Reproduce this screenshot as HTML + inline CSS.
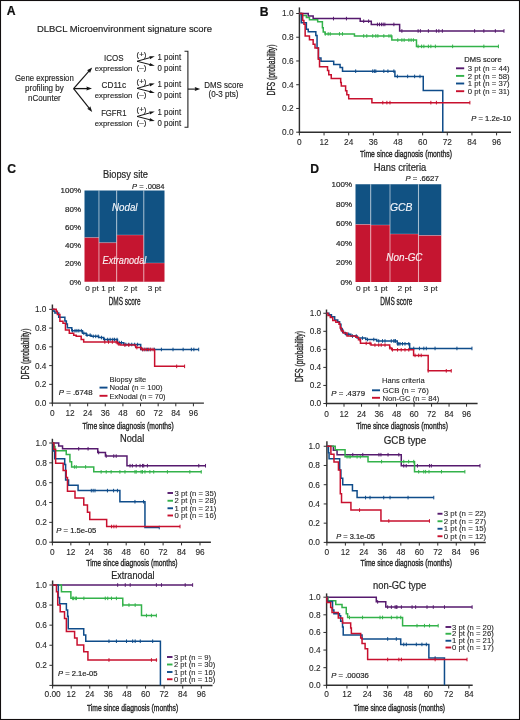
<!DOCTYPE html><html><head><meta charset="utf-8"><style>html,body{margin:0;padding:0;background:#fff;}svg{display:block;will-change:transform;}</style></head><body><svg width="520" height="720" viewBox="0 0 520 720" font-family='"Liberation Sans", sans-serif'>
<rect x="0" y="0" width="520" height="720" fill="#fff"/>
<text x="6.80" y="15.49" font-size="12.2" text-anchor="start" fill="#111" font-weight="bold" stroke="#111" stroke-width="0.2">A</text>
<text x="37.00" y="32.02" font-size="9.5" text-anchor="start" fill="#262626" textLength="175.00" lengthAdjust="spacingAndGlyphs" stroke="#262626" stroke-width="0.2">DLBCL Microenvironment signature score</text>
<text x="44.40" y="81.31" font-size="8.5" text-anchor="middle" fill="#262626" textLength="58.75" lengthAdjust="spacingAndGlyphs" stroke="#262626" stroke-width="0.15">Gene expression</text>
<text x="44.40" y="91.31" font-size="8.5" text-anchor="middle" fill="#262626" textLength="38.75" lengthAdjust="spacingAndGlyphs" stroke="#262626" stroke-width="0.15">profiling by</text>
<text x="44.40" y="100.56" font-size="8.5" text-anchor="middle" fill="#262626" textLength="32.75" lengthAdjust="spacingAndGlyphs" stroke="#262626" stroke-width="0.15">nCounter</text>
<line x1="73.60" y1="88.60" x2="89.17" y2="70.86" stroke="#151515" stroke-width="1.15"/>
<path d="M92.20,67.40 L90.01,72.93 L88.90,71.16 L87.00,70.29 Z" fill="#151515"/>
<line x1="73.60" y1="88.60" x2="87.40" y2="88.60" stroke="#151515" stroke-width="1.3"/>
<path d="M92.00,88.60 L86.40,90.60 L87.00,88.60 L86.40,86.60 Z" fill="#151515"/>
<line x1="73.60" y1="88.60" x2="89.34" y2="108.40" stroke="#151515" stroke-width="1.15"/>
<path d="M92.20,112.00 L87.15,108.86 L89.09,108.09 L90.28,106.37 Z" fill="#151515"/>
<text x="113.80" y="60.87" font-size="8.8" text-anchor="middle" fill="#262626" textLength="19.50" lengthAdjust="spacingAndGlyphs" stroke="#262626" stroke-width="0.15">ICOS</text>
<text x="113.60" y="71.22" font-size="8.1" text-anchor="middle" fill="#262626" textLength="37.60" lengthAdjust="spacingAndGlyphs" stroke="#262626" stroke-width="0.15">expression</text>
<text x="113.80" y="87.77" font-size="8.8" text-anchor="middle" fill="#262626" textLength="24.50" lengthAdjust="spacingAndGlyphs" stroke="#262626" stroke-width="0.15">CD11c</text>
<text x="113.60" y="98.42" font-size="8.1" text-anchor="middle" fill="#262626" textLength="37.60" lengthAdjust="spacingAndGlyphs" stroke="#262626" stroke-width="0.15">expression</text>
<text x="113.80" y="116.27" font-size="8.8" text-anchor="middle" fill="#262626" textLength="25.30" lengthAdjust="spacingAndGlyphs" stroke="#262626" stroke-width="0.15">FGFR1</text>
<text x="113.60" y="126.22" font-size="8.1" text-anchor="middle" fill="#262626" textLength="37.60" lengthAdjust="spacingAndGlyphs" stroke="#262626" stroke-width="0.15">expression</text>
<text x="141.45" y="56.94" font-size="7.6" text-anchor="middle" fill="#262626" textLength="9.90" lengthAdjust="spacingAndGlyphs" stroke="#262626" stroke-width="0.15">(+)</text>
<text x="141.45" y="70.14" font-size="7.6" text-anchor="middle" fill="#262626" textLength="9.90" lengthAdjust="spacingAndGlyphs" stroke="#262626" stroke-width="0.15">(–)</text>
<line x1="137.00" y1="61.25" x2="150.46" y2="57.51" stroke="#151515" stroke-width="1.0"/>
<path d="M154.80,56.30 L149.93,59.32 L150.08,57.61 L149.07,56.23 Z" fill="#151515"/>
<line x1="137.00" y1="61.25" x2="150.44" y2="64.69" stroke="#151515" stroke-width="1.0"/>
<path d="M154.80,65.80 L149.08,65.99 L150.05,64.59 L149.87,62.89 Z" fill="#151515"/>
<text x="157.60" y="60.20" font-size="8.6" text-anchor="start" fill="#262626" textLength="23.50" lengthAdjust="spacingAndGlyphs" stroke="#262626" stroke-width="0.15">1 point</text>
<text x="157.60" y="71.20" font-size="8.6" text-anchor="start" fill="#262626" textLength="23.50" lengthAdjust="spacingAndGlyphs" stroke="#262626" stroke-width="0.15">0 point</text>
<text x="141.45" y="84.04" font-size="7.6" text-anchor="middle" fill="#262626" textLength="9.90" lengthAdjust="spacingAndGlyphs" stroke="#262626" stroke-width="0.15">(+)</text>
<text x="141.45" y="97.24" font-size="7.6" text-anchor="middle" fill="#262626" textLength="9.90" lengthAdjust="spacingAndGlyphs" stroke="#262626" stroke-width="0.15">(–)</text>
<line x1="137.00" y1="88.35" x2="150.46" y2="84.61" stroke="#151515" stroke-width="1.0"/>
<path d="M154.80,83.40 L149.93,86.42 L150.08,84.71 L149.07,83.33 Z" fill="#151515"/>
<line x1="137.00" y1="88.35" x2="150.44" y2="91.79" stroke="#151515" stroke-width="1.0"/>
<path d="M154.80,92.90 L149.08,93.09 L150.05,91.69 L149.87,89.99 Z" fill="#151515"/>
<text x="157.60" y="87.30" font-size="8.6" text-anchor="start" fill="#262626" textLength="23.50" lengthAdjust="spacingAndGlyphs" stroke="#262626" stroke-width="0.15">1 point</text>
<text x="157.60" y="98.30" font-size="8.6" text-anchor="start" fill="#262626" textLength="23.50" lengthAdjust="spacingAndGlyphs" stroke="#262626" stroke-width="0.15">0 point</text>
<text x="141.45" y="112.14" font-size="7.6" text-anchor="middle" fill="#262626" textLength="9.90" lengthAdjust="spacingAndGlyphs" stroke="#262626" stroke-width="0.15">(+)</text>
<text x="141.45" y="125.34" font-size="7.6" text-anchor="middle" fill="#262626" textLength="9.90" lengthAdjust="spacingAndGlyphs" stroke="#262626" stroke-width="0.15">(–)</text>
<line x1="137.00" y1="116.45" x2="150.46" y2="112.71" stroke="#151515" stroke-width="1.0"/>
<path d="M154.80,111.50 L149.93,114.52 L150.08,112.81 L149.07,111.43 Z" fill="#151515"/>
<line x1="137.00" y1="116.45" x2="150.44" y2="119.89" stroke="#151515" stroke-width="1.0"/>
<path d="M154.80,121.00 L149.08,121.19 L150.05,119.79 L149.87,118.09 Z" fill="#151515"/>
<text x="157.60" y="115.40" font-size="8.6" text-anchor="start" fill="#262626" textLength="23.50" lengthAdjust="spacingAndGlyphs" stroke="#262626" stroke-width="0.15">1 point</text>
<text x="157.60" y="126.40" font-size="8.6" text-anchor="start" fill="#262626" textLength="23.50" lengthAdjust="spacingAndGlyphs" stroke="#262626" stroke-width="0.15">0 point</text>
<path d="M184.5,51.2 H187.9 V127.2 H184.5" fill="none" stroke="#222" stroke-width="1.1"/>
<line x1="187.90" y1="89.10" x2="195.70" y2="89.10" stroke="#151515" stroke-width="1.1"/>
<path d="M200.20,89.10 L194.70,91.10 L195.30,89.10 L194.70,87.10 Z" fill="#151515"/>
<text x="223.90" y="88.10" font-size="8.6" text-anchor="middle" fill="#262626" textLength="39.20" lengthAdjust="spacingAndGlyphs" stroke="#262626" stroke-width="0.15">DMS score</text>
<text x="223.50" y="97.40" font-size="8.6" text-anchor="middle" fill="#262626" textLength="30.00" lengthAdjust="spacingAndGlyphs" stroke="#262626" stroke-width="0.15">(0-3 pts)</text>
<text x="259.80" y="16.19" font-size="12.2" text-anchor="start" fill="#111" font-weight="bold" stroke="#111" stroke-width="0.2">B</text>
<line x1="299.40" y1="7.40" x2="299.40" y2="132.90" stroke="#2e2e2e" stroke-width="1.45"/>
<line x1="298.70" y1="132.20" x2="511.00" y2="132.20" stroke="#2e2e2e" stroke-width="1.45"/>
<line x1="296.20" y1="132.20" x2="299.40" y2="132.20" stroke="#2e2e2e" stroke-width="1.0"/>
<text x="293.60" y="135.19" font-size="8.3" text-anchor="end" fill="#262626" stroke="#262626" stroke-width="0.1">0.0</text>
<line x1="296.20" y1="108.46" x2="299.40" y2="108.46" stroke="#2e2e2e" stroke-width="1.0"/>
<text x="293.60" y="111.45" font-size="8.3" text-anchor="end" fill="#262626" stroke="#262626" stroke-width="0.1">0.2</text>
<line x1="296.20" y1="84.72" x2="299.40" y2="84.72" stroke="#2e2e2e" stroke-width="1.0"/>
<text x="293.60" y="87.71" font-size="8.3" text-anchor="end" fill="#262626" stroke="#262626" stroke-width="0.1">0.4</text>
<line x1="296.20" y1="60.98" x2="299.40" y2="60.98" stroke="#2e2e2e" stroke-width="1.0"/>
<text x="293.60" y="63.97" font-size="8.3" text-anchor="end" fill="#262626" stroke="#262626" stroke-width="0.1">0.6</text>
<line x1="296.20" y1="37.24" x2="299.40" y2="37.24" stroke="#2e2e2e" stroke-width="1.0"/>
<text x="293.60" y="40.23" font-size="8.3" text-anchor="end" fill="#262626" stroke="#262626" stroke-width="0.1">0.8</text>
<line x1="296.20" y1="13.50" x2="299.40" y2="13.50" stroke="#2e2e2e" stroke-width="1.0"/>
<text x="293.60" y="16.49" font-size="8.3" text-anchor="end" fill="#262626" stroke="#262626" stroke-width="0.1">1.0</text>
<line x1="299.40" y1="132.20" x2="299.40" y2="135.40" stroke="#2e2e2e" stroke-width="1.0"/>
<text x="299.40" y="144.99" font-size="8.3" text-anchor="middle" fill="#262626" stroke="#262626" stroke-width="0.1">0</text>
<line x1="324.05" y1="132.20" x2="324.05" y2="135.40" stroke="#2e2e2e" stroke-width="1.0"/>
<text x="324.05" y="144.99" font-size="8.3" text-anchor="middle" fill="#262626" stroke="#262626" stroke-width="0.1">12</text>
<line x1="348.70" y1="132.20" x2="348.70" y2="135.40" stroke="#2e2e2e" stroke-width="1.0"/>
<text x="348.70" y="144.99" font-size="8.3" text-anchor="middle" fill="#262626" stroke="#262626" stroke-width="0.1">24</text>
<line x1="373.34" y1="132.20" x2="373.34" y2="135.40" stroke="#2e2e2e" stroke-width="1.0"/>
<text x="373.34" y="144.99" font-size="8.3" text-anchor="middle" fill="#262626" stroke="#262626" stroke-width="0.1">36</text>
<line x1="397.99" y1="132.20" x2="397.99" y2="135.40" stroke="#2e2e2e" stroke-width="1.0"/>
<text x="397.99" y="144.99" font-size="8.3" text-anchor="middle" fill="#262626" stroke="#262626" stroke-width="0.1">48</text>
<line x1="422.64" y1="132.20" x2="422.64" y2="135.40" stroke="#2e2e2e" stroke-width="1.0"/>
<text x="422.64" y="144.99" font-size="8.3" text-anchor="middle" fill="#262626" stroke="#262626" stroke-width="0.1">60</text>
<line x1="447.29" y1="132.20" x2="447.29" y2="135.40" stroke="#2e2e2e" stroke-width="1.0"/>
<text x="447.29" y="144.99" font-size="8.3" text-anchor="middle" fill="#262626" stroke="#262626" stroke-width="0.1">72</text>
<line x1="471.94" y1="132.20" x2="471.94" y2="135.40" stroke="#2e2e2e" stroke-width="1.0"/>
<text x="471.94" y="144.99" font-size="8.3" text-anchor="middle" fill="#262626" stroke="#262626" stroke-width="0.1">84</text>
<line x1="496.58" y1="132.20" x2="496.58" y2="135.40" stroke="#2e2e2e" stroke-width="1.0"/>
<text x="496.58" y="144.99" font-size="8.3" text-anchor="middle" fill="#262626" stroke="#262626" stroke-width="0.1">96</text>
<g transform="translate(271.20,70.00) rotate(-90)"><text x="0" y="3.74" font-size="10.4" text-anchor="middle" fill="#262626" textLength="51.00" lengthAdjust="spacingAndGlyphs" stroke="#262626" stroke-width="0.35">DFS (probability)</text></g>
<text x="406.00" y="156.56" font-size="9.9" text-anchor="middle" fill="#262626" textLength="92.00" lengthAdjust="spacingAndGlyphs" stroke="#262626" stroke-width="0.38">Time since diagnosis (months)</text>
<path d="M299.40,13.50 L308.23,13.50 L308.23,15.99 L313.16,15.99 L313.16,18.60 L360.20,18.60 L360.20,21.22 L371.29,21.22 L371.29,24.42 L399.64,24.42 L399.64,30.95 L503.98,30.95" fill="none" stroke="#561a6e" stroke-width="1.5" stroke-linejoin="miter"/>
<path d="M333.50,16.80 V20.40 M346.44,16.80 V20.40 M363.69,19.42 V23.02 M368.62,19.42 V23.02 M377.45,22.62 V26.22 M379.51,22.62 V26.22 M381.56,22.62 V26.22 M383.20,22.62 V26.22 M384.85,22.62 V26.22 M393.88,22.62 V26.22 M401.89,29.15 V32.75 M418.12,29.15 V32.75 M420.38,29.15 V32.75 M428.39,29.15 V32.75 M436.40,29.15 V32.75 M438.87,29.15 V32.75 M442.36,29.15 V32.75 M474.61,29.15 V32.75 M483.85,29.15 V32.75 M495.35,29.15 V32.75 M503.98,29.15 V32.75" stroke="#561a6e" stroke-width="1" fill="none"/>
<path d="M299.40,13.50 L301.45,13.50 L301.45,15.52 L306.38,15.52 L306.38,17.54 L309.46,17.54 L309.46,19.67 L317.68,19.67 L317.68,21.69 L322.40,21.69 L322.40,27.86 L323.23,27.86 L323.23,31.90 L325.07,31.90 L325.07,33.92 L354.45,33.92 L354.45,35.93 L391.83,35.93 L391.83,40.09 L416.48,40.09 L416.48,46.38 L498.43,46.38" fill="none" stroke="#33b24a" stroke-width="1.5" stroke-linejoin="miter"/>
<path d="M325.28,32.12 V35.72 M328.16,32.12 V35.72 M330.21,32.12 V35.72 M339.45,32.12 V35.72 M342.53,32.12 V35.72 M363.69,34.13 V37.73 M366.77,34.13 V37.73 M372.73,34.13 V37.73 M375.81,34.13 V37.73 M377.86,34.13 V37.73 M383.82,34.13 V37.73 M388.95,34.13 V37.73 M391.01,34.13 V37.73 M397.79,38.29 V41.89 M401.89,38.29 V41.89 M404.15,38.29 V41.89 M408.88,38.29 V41.89 M411.14,38.29 V41.89 M413.40,38.29 V41.89 M418.12,44.58 V48.18 M421.61,44.58 V48.18 M423.87,44.58 V48.18 M428.39,44.58 V48.18 M430.86,44.58 V48.18 M435.37,44.58 V48.18 M452.63,44.58 V48.18 M483.85,44.58 V48.18 M498.43,44.58 V48.18" stroke="#33b24a" stroke-width="1" fill="none"/>
<path d="M299.40,13.50 L301.25,13.50 L301.25,22.76 L306.38,22.76 L306.38,29.29 L308.23,29.29 L308.23,31.78 L315.83,31.78 L315.83,35.46 L317.06,35.46 L317.06,48.04 L318.50,48.04 L318.50,58.01 L320.97,58.01 L320.97,61.22 L333.70,61.22 L333.70,64.42 L340.07,64.42 L340.07,67.51 L342.53,67.51 L342.53,71.19 L394.91,71.19 L394.91,76.41 L423.26,76.41 L423.26,90.42 L442.77,90.42 L442.77,132.20 L442.77,132.20" fill="none" stroke="#0f4c8a" stroke-width="1.5" stroke-linejoin="miter"/>
<path d="M355.68,69.39 V72.99 M372.73,69.39 V72.99 M374.37,69.39 V72.99 M375.81,69.39 V72.99 M383.82,69.39 V72.99 M387.93,69.39 V72.99 M393.88,69.39 V72.99 M397.38,74.61 V78.21 M407.65,74.61 V78.21 M414.63,74.61 V78.21 M419.97,74.61 V78.21" stroke="#0f4c8a" stroke-width="1" fill="none"/>
<path d="M299.40,13.50 L302.69,13.50 L302.69,20.50 L303.92,20.50 L303.92,24.30 L305.15,24.30 L305.15,36.05 L309.46,36.05 L309.46,39.85 L313.16,39.85 L313.16,44.24 L315.01,44.24 L315.01,48.04 L318.30,48.04 L318.30,59.20 L319.53,59.20 L319.53,66.80 L327.54,66.80 L327.54,70.59 L328.77,70.59 L328.77,74.63 L331.24,74.63 L331.24,78.43 L340.69,78.43 L340.69,82.46 L341.30,82.46 L341.30,86.03 L345.61,86.03 L345.61,90.65 L346.85,90.65 L346.85,94.81 L348.70,94.81 L348.70,98.73 L371.91,98.73 L371.91,102.64 L469.88,102.64" fill="none" stroke="#c8102e" stroke-width="1.5" stroke-linejoin="miter"/>
<path d="M382.79,100.84 V104.44 M386.90,100.84 V104.44 M389.98,100.84 V104.44 M430.86,100.84 V104.44 M436.40,100.84 V104.44 M469.88,100.84 V104.44" stroke="#c8102e" stroke-width="1" fill="none"/>
<text x="464.20" y="62.01" font-size="7.8" text-anchor="start" fill="#262626" textLength="37.40" lengthAdjust="spacingAndGlyphs" stroke="#262626" stroke-width="0.2">DMS score</text>
<line x1="456.00" y1="68.30" x2="464.20" y2="68.30" stroke="#561a6e" stroke-width="1.9"/>
<text x="467.70" y="71.11" font-size="7.8" text-anchor="start" fill="#262626" textLength="42.00" lengthAdjust="spacingAndGlyphs" stroke="#262626" stroke-width="0.1">3 pt (n = 44)</text>
<line x1="456.00" y1="75.90" x2="464.20" y2="75.90" stroke="#33b24a" stroke-width="1.9"/>
<text x="467.70" y="78.71" font-size="7.8" text-anchor="start" fill="#262626" textLength="42.00" lengthAdjust="spacingAndGlyphs" stroke="#262626" stroke-width="0.1">2 pt (n = 58)</text>
<line x1="456.00" y1="83.50" x2="464.20" y2="83.50" stroke="#0f4c8a" stroke-width="1.9"/>
<text x="467.70" y="86.31" font-size="7.8" text-anchor="start" fill="#262626" textLength="42.00" lengthAdjust="spacingAndGlyphs" stroke="#262626" stroke-width="0.1">1 pt (n = 37)</text>
<line x1="456.00" y1="91.20" x2="464.20" y2="91.20" stroke="#c8102e" stroke-width="1.9"/>
<text x="467.70" y="94.01" font-size="7.8" text-anchor="start" fill="#262626" textLength="42.00" lengthAdjust="spacingAndGlyphs" stroke="#262626" stroke-width="0.1">0 pt (n = 31)</text>
<text x="471.20" y="121.31" font-size="7.8" text-anchor="start" fill="#262626" textLength="39.80" lengthAdjust="spacingAndGlyphs" stroke="#262626" stroke-width="0.2"><tspan font-style="italic">P</tspan> = 1.2e-10</text>
<text x="7.30" y="172.99" font-size="12.2" text-anchor="start" fill="#111" font-weight="bold" stroke="#111" stroke-width="0.2">C</text>
<text x="125.50" y="177.87" font-size="10.2" text-anchor="middle" fill="#262626" textLength="45.00" lengthAdjust="spacingAndGlyphs" stroke="#262626" stroke-width="0.2">Biopsy site</text>
<text x="132.00" y="189.04" font-size="7.6" text-anchor="start" fill="#262626" textLength="32.50" lengthAdjust="spacingAndGlyphs" stroke="#262626" stroke-width="0.2"><tspan font-style="italic">P</tspan> = .0084</text>
<rect x="84.50" y="190.50" width="14.45" height="47.10" fill="#115283"/>
<rect x="84.50" y="237.60" width="14.45" height="44.15" fill="#c51530"/>
<line x1="84.50" y1="237.60" x2="98.95" y2="237.60" stroke="#ffffff" stroke-opacity="0.3" stroke-width="0.8"/>
<rect x="98.95" y="190.50" width="17.70" height="52.20" fill="#115283"/>
<rect x="98.95" y="242.70" width="17.70" height="39.05" fill="#c51530"/>
<line x1="98.95" y1="242.70" x2="116.65" y2="242.70" stroke="#ffffff" stroke-opacity="0.3" stroke-width="0.8"/>
<rect x="116.65" y="190.50" width="27.15" height="44.50" fill="#115283"/>
<rect x="116.65" y="235.00" width="27.15" height="46.75" fill="#c51530"/>
<line x1="116.65" y1="235.00" x2="143.80" y2="235.00" stroke="#ffffff" stroke-opacity="0.3" stroke-width="0.8"/>
<rect x="143.80" y="190.50" width="20.70" height="72.50" fill="#115283"/>
<rect x="143.80" y="263.00" width="20.70" height="18.75" fill="#c51530"/>
<line x1="143.80" y1="263.00" x2="164.50" y2="263.00" stroke="#ffffff" stroke-opacity="0.3" stroke-width="0.8"/>
<line x1="98.95" y1="190.50" x2="98.95" y2="281.75" stroke="#ffffff" stroke-opacity="0.5" stroke-width="1.1"/>
<line x1="116.65" y1="190.50" x2="116.65" y2="281.75" stroke="#ffffff" stroke-opacity="0.5" stroke-width="1.1"/>
<line x1="143.80" y1="190.50" x2="143.80" y2="281.75" stroke="#ffffff" stroke-opacity="0.5" stroke-width="1.1"/>
<text x="81.00" y="193.38" font-size="8.0" text-anchor="end" fill="#262626" stroke="#262626" stroke-width="0.2">100%</text>
<text x="81.00" y="211.63" font-size="8.0" text-anchor="end" fill="#262626" stroke="#262626" stroke-width="0.2">80%</text>
<text x="81.00" y="229.88" font-size="8.0" text-anchor="end" fill="#262626" stroke="#262626" stroke-width="0.2">60%</text>
<text x="81.00" y="248.13" font-size="8.0" text-anchor="end" fill="#262626" stroke="#262626" stroke-width="0.2">40%</text>
<text x="81.00" y="266.38" font-size="8.0" text-anchor="end" fill="#262626" stroke="#262626" stroke-width="0.2">20%</text>
<text x="81.00" y="284.63" font-size="8.0" text-anchor="end" fill="#262626" stroke="#262626" stroke-width="0.2">0%</text>
<text x="124.80" y="211.29" font-size="10.8" text-anchor="middle" fill="#f2f5fa" font-style="italic" textLength="25.50" lengthAdjust="spacingAndGlyphs" stroke="#f2f5fa" stroke-width="0.15">Nodal</text>
<text x="124.40" y="264.29" font-size="10.8" text-anchor="middle" fill="#f8eef0" font-style="italic" textLength="43.70" lengthAdjust="spacingAndGlyphs" stroke="#f8eef0" stroke-width="0.15">Extranodal</text>
<text x="91.90" y="291.41" font-size="7.8" text-anchor="middle" fill="#262626" textLength="13.50" lengthAdjust="spacingAndGlyphs" stroke="#262626" stroke-width="0.12">0 pt</text>
<text x="107.90" y="291.41" font-size="7.8" text-anchor="middle" fill="#262626" textLength="13.50" lengthAdjust="spacingAndGlyphs" stroke="#262626" stroke-width="0.12">1 pt</text>
<text x="130.40" y="291.41" font-size="7.8" text-anchor="middle" fill="#262626" textLength="13.50" lengthAdjust="spacingAndGlyphs" stroke="#262626" stroke-width="0.12">2 pt</text>
<text x="154.40" y="291.41" font-size="7.8" text-anchor="middle" fill="#262626" textLength="13.50" lengthAdjust="spacingAndGlyphs" stroke="#262626" stroke-width="0.12">3 pt</text>
<text x="124.60" y="304.56" font-size="11.0" text-anchor="middle" fill="#262626" textLength="31.80" lengthAdjust="spacingAndGlyphs" stroke="#262626" stroke-width="0.35">DMS score</text>
<text x="310.30" y="172.89" font-size="12.2" text-anchor="start" fill="#111" font-weight="bold" stroke="#111" stroke-width="0.2">D</text>
<text x="400.00" y="171.47" font-size="10.2" text-anchor="middle" fill="#262626" textLength="52.50" lengthAdjust="spacingAndGlyphs" stroke="#262626" stroke-width="0.2">Hans criteria</text>
<text x="405.50" y="181.01" font-size="7.8" text-anchor="start" fill="#262626" textLength="33.20" lengthAdjust="spacingAndGlyphs" stroke="#262626" stroke-width="0.2"><tspan font-style="italic">P</tspan> = .6627</text>
<rect x="355.50" y="184.25" width="15.20" height="40.25" fill="#115283"/>
<rect x="355.50" y="224.50" width="15.20" height="57.50" fill="#c51530"/>
<line x1="355.50" y1="224.50" x2="370.70" y2="224.50" stroke="#ffffff" stroke-opacity="0.3" stroke-width="0.8"/>
<rect x="370.70" y="184.25" width="19.30" height="40.75" fill="#115283"/>
<rect x="370.70" y="225.00" width="19.30" height="57.00" fill="#c51530"/>
<line x1="370.70" y1="225.00" x2="390.00" y2="225.00" stroke="#ffffff" stroke-opacity="0.3" stroke-width="0.8"/>
<rect x="390.00" y="184.25" width="28.50" height="49.75" fill="#115283"/>
<rect x="390.00" y="234.00" width="28.50" height="48.00" fill="#c51530"/>
<line x1="390.00" y1="234.00" x2="418.50" y2="234.00" stroke="#ffffff" stroke-opacity="0.3" stroke-width="0.8"/>
<rect x="418.50" y="184.25" width="22.75" height="51.25" fill="#115283"/>
<rect x="418.50" y="235.50" width="22.75" height="46.50" fill="#c51530"/>
<line x1="418.50" y1="235.50" x2="441.25" y2="235.50" stroke="#ffffff" stroke-opacity="0.3" stroke-width="0.8"/>
<line x1="370.70" y1="184.25" x2="370.70" y2="282.00" stroke="#ffffff" stroke-opacity="0.5" stroke-width="1.1"/>
<line x1="390.00" y1="184.25" x2="390.00" y2="282.00" stroke="#ffffff" stroke-opacity="0.5" stroke-width="1.1"/>
<line x1="418.50" y1="184.25" x2="418.50" y2="282.00" stroke="#ffffff" stroke-opacity="0.5" stroke-width="1.1"/>
<text x="352.00" y="187.13" font-size="8.0" text-anchor="end" fill="#262626" stroke="#262626" stroke-width="0.2">100%</text>
<text x="352.00" y="206.63" font-size="8.0" text-anchor="end" fill="#262626" stroke="#262626" stroke-width="0.2">80%</text>
<text x="352.00" y="226.13" font-size="8.0" text-anchor="end" fill="#262626" stroke="#262626" stroke-width="0.2">60%</text>
<text x="352.00" y="245.88" font-size="8.0" text-anchor="end" fill="#262626" stroke="#262626" stroke-width="0.2">40%</text>
<text x="352.00" y="265.38" font-size="8.0" text-anchor="end" fill="#262626" stroke="#262626" stroke-width="0.2">20%</text>
<text x="352.00" y="284.88" font-size="8.0" text-anchor="end" fill="#262626" stroke="#262626" stroke-width="0.2">0%</text>
<text x="401.20" y="210.59" font-size="10.8" text-anchor="middle" fill="#f2f5fa" font-style="italic" textLength="22.50" lengthAdjust="spacingAndGlyphs" stroke="#f2f5fa" stroke-width="0.15">GCB</text>
<text x="404.40" y="261.29" font-size="10.8" text-anchor="middle" fill="#f8eef0" font-style="italic" textLength="36.20" lengthAdjust="spacingAndGlyphs" stroke="#f8eef0" stroke-width="0.15">Non-GC</text>
<text x="363.00" y="291.11" font-size="7.8" text-anchor="middle" fill="#262626" textLength="14.00" lengthAdjust="spacingAndGlyphs" stroke="#262626" stroke-width="0.12">0 pt</text>
<text x="380.70" y="291.11" font-size="7.8" text-anchor="middle" fill="#262626" textLength="14.00" lengthAdjust="spacingAndGlyphs" stroke="#262626" stroke-width="0.12">1 pt</text>
<text x="404.50" y="291.11" font-size="7.8" text-anchor="middle" fill="#262626" textLength="14.00" lengthAdjust="spacingAndGlyphs" stroke="#262626" stroke-width="0.12">2 pt</text>
<text x="430.50" y="291.11" font-size="7.8" text-anchor="middle" fill="#262626" textLength="14.00" lengthAdjust="spacingAndGlyphs" stroke="#262626" stroke-width="0.12">3 pt</text>
<text x="396.40" y="304.86" font-size="11.0" text-anchor="middle" fill="#262626" textLength="32.10" lengthAdjust="spacingAndGlyphs" stroke="#262626" stroke-width="0.35">DMS score</text>
<line x1="52.40" y1="304.50" x2="52.40" y2="403.80" stroke="#2e2e2e" stroke-width="1.45"/>
<line x1="51.70" y1="403.10" x2="203.90" y2="403.10" stroke="#2e2e2e" stroke-width="1.45"/>
<line x1="49.20" y1="403.10" x2="52.40" y2="403.10" stroke="#2e2e2e" stroke-width="1.0"/>
<text x="46.50" y="406.09" font-size="8.3" text-anchor="end" fill="#262626" stroke="#262626" stroke-width="0.1">0.0</text>
<line x1="49.20" y1="384.35" x2="52.40" y2="384.35" stroke="#2e2e2e" stroke-width="1.0"/>
<text x="46.50" y="387.34" font-size="8.3" text-anchor="end" fill="#262626" stroke="#262626" stroke-width="0.1">0.2</text>
<line x1="49.20" y1="365.60" x2="52.40" y2="365.60" stroke="#2e2e2e" stroke-width="1.0"/>
<text x="46.50" y="368.59" font-size="8.3" text-anchor="end" fill="#262626" stroke="#262626" stroke-width="0.1">0.4</text>
<line x1="49.20" y1="346.85" x2="52.40" y2="346.85" stroke="#2e2e2e" stroke-width="1.0"/>
<text x="46.50" y="349.84" font-size="8.3" text-anchor="end" fill="#262626" stroke="#262626" stroke-width="0.1">0.6</text>
<line x1="49.20" y1="328.10" x2="52.40" y2="328.10" stroke="#2e2e2e" stroke-width="1.0"/>
<text x="46.50" y="331.09" font-size="8.3" text-anchor="end" fill="#262626" stroke="#262626" stroke-width="0.1">0.8</text>
<line x1="49.20" y1="309.35" x2="52.40" y2="309.35" stroke="#2e2e2e" stroke-width="1.0"/>
<text x="46.50" y="312.34" font-size="8.3" text-anchor="end" fill="#262626" stroke="#262626" stroke-width="0.1">1.0</text>
<line x1="52.40" y1="403.10" x2="52.40" y2="406.30" stroke="#2e2e2e" stroke-width="1.0"/>
<text x="52.40" y="416.29" font-size="8.3" text-anchor="middle" fill="#262626" stroke="#262626" stroke-width="0.1">0</text>
<line x1="70.03" y1="403.10" x2="70.03" y2="406.30" stroke="#2e2e2e" stroke-width="1.0"/>
<text x="70.03" y="416.29" font-size="8.3" text-anchor="middle" fill="#262626" stroke="#262626" stroke-width="0.1">12</text>
<line x1="87.66" y1="403.10" x2="87.66" y2="406.30" stroke="#2e2e2e" stroke-width="1.0"/>
<text x="87.66" y="416.29" font-size="8.3" text-anchor="middle" fill="#262626" stroke="#262626" stroke-width="0.1">24</text>
<line x1="105.28" y1="403.10" x2="105.28" y2="406.30" stroke="#2e2e2e" stroke-width="1.0"/>
<text x="105.28" y="416.29" font-size="8.3" text-anchor="middle" fill="#262626" stroke="#262626" stroke-width="0.1">36</text>
<line x1="122.91" y1="403.10" x2="122.91" y2="406.30" stroke="#2e2e2e" stroke-width="1.0"/>
<text x="122.91" y="416.29" font-size="8.3" text-anchor="middle" fill="#262626" stroke="#262626" stroke-width="0.1">48</text>
<line x1="140.54" y1="403.10" x2="140.54" y2="406.30" stroke="#2e2e2e" stroke-width="1.0"/>
<text x="140.54" y="416.29" font-size="8.3" text-anchor="middle" fill="#262626" stroke="#262626" stroke-width="0.1">60</text>
<line x1="158.17" y1="403.10" x2="158.17" y2="406.30" stroke="#2e2e2e" stroke-width="1.0"/>
<text x="158.17" y="416.29" font-size="8.3" text-anchor="middle" fill="#262626" stroke="#262626" stroke-width="0.1">72</text>
<line x1="175.80" y1="403.10" x2="175.80" y2="406.30" stroke="#2e2e2e" stroke-width="1.0"/>
<text x="175.80" y="416.29" font-size="8.3" text-anchor="middle" fill="#262626" stroke="#262626" stroke-width="0.1">84</text>
<line x1="193.42" y1="403.10" x2="193.42" y2="406.30" stroke="#2e2e2e" stroke-width="1.0"/>
<text x="193.42" y="416.29" font-size="8.3" text-anchor="middle" fill="#262626" stroke="#262626" stroke-width="0.1">96</text>
<g transform="translate(25.30,354.00) rotate(-90)"><text x="0" y="3.74" font-size="10.4" text-anchor="middle" fill="#262626" textLength="50.80" lengthAdjust="spacingAndGlyphs" stroke="#262626" stroke-width="0.35">DFS (probability)</text></g>
<text x="128.10" y="428.56" font-size="9.9" text-anchor="middle" fill="#262626" textLength="91.20" lengthAdjust="spacingAndGlyphs" stroke="#262626" stroke-width="0.38">Time since diagnosis (months)</text>
<path d="M52.40,309.35 L53.87,309.35 L53.87,311.32 L54.90,311.32 L54.90,313.10 L58.72,313.10 L58.72,317.32 L64.89,317.32 L64.89,321.07 L66.36,321.07 L66.36,323.88 L67.38,323.88 L67.38,327.63 L71.79,327.63 L71.79,330.73 L82.51,330.73 L82.51,333.26 L86.19,333.26 L86.19,335.13 L91.18,335.13 L91.18,336.35 L98.67,336.35 L98.67,337.57 L103.67,337.57 L103.67,339.54 L117.48,339.54 L117.48,342.63 L123.79,342.63 L123.79,344.51 L140.69,344.51 L140.69,349.48 L198.71,349.48" fill="none" stroke="#0f4c8a" stroke-width="1.5" stroke-linejoin="miter"/>
<path d="M72.53,328.93 V332.53 M75.02,328.93 V332.53 M76.93,328.93 V332.53 M78.84,328.93 V332.53 M81.34,328.93 V332.53 M83.84,331.46 V335.06 M87.07,333.33 V336.93 M90.15,333.33 V336.93 M93.24,334.55 V338.15 M95.74,334.55 V338.15 M98.23,334.55 V338.15 M101.46,335.77 V339.37 M104.55,337.74 V341.34 M107.63,337.74 V341.34 M110.13,337.74 V341.34 M112.78,337.74 V341.34 M114.54,337.74 V341.34 M117.04,337.74 V341.34 M119.24,340.83 V344.43 M121.44,340.83 V344.43 M125.85,342.71 V346.31 M128.79,342.71 V346.31 M131.73,342.71 V346.31 M134.66,342.71 V346.31 M137.60,342.71 V346.31 M142.60,347.68 V351.28 M145.09,347.68 V351.28 M147.59,347.68 V351.28 M150.09,347.68 V351.28 M154.35,347.68 V351.28 M161.40,347.68 V351.28 M173.00,347.68 V351.28 M183.14,347.68 V351.28 M191.37,347.68 V351.28 M193.86,347.68 V351.28 M198.71,347.68 V351.28" stroke="#0f4c8a" stroke-width="1" fill="none"/>
<path d="M52.40,309.35 L56.22,309.35 L56.22,311.32 L57.39,311.32 L57.39,314.51 L59.89,314.51 L59.89,321.35 L62.98,321.35 L62.98,323.23 L65.47,323.23 L65.47,330.07 L69.29,330.07 L69.29,333.26 L73.70,333.26 L73.70,335.13 L76.20,335.13 L76.20,336.35 L81.19,336.35 L81.19,339.54 L83.69,339.54 L83.69,341.98 L117.48,341.98 L117.48,343.85 L119.97,343.85 L119.97,345.07 L135.69,345.07 L135.69,347.60 L141.27,347.60 L141.27,349.48 L154.64,349.48 L154.64,366.35 L184.61,366.35" fill="none" stroke="#c8102e" stroke-width="1.5" stroke-linejoin="miter"/>
<path d="M104.84,340.18 V343.78 M108.52,340.18 V343.78 M112.34,340.18 V343.78 M116.15,340.18 V343.78 M118.36,342.05 V345.65 M124.82,343.27 V346.87 M128.79,343.27 V346.87 M136.87,345.80 V349.40 M142.74,347.68 V351.28 M144.21,347.68 V351.28 M146.42,347.68 V351.28 M148.62,347.68 V351.28 M150.82,347.68 V351.28 M153.03,347.68 V351.28 M176.68,364.55 V368.15 M184.61,364.55 V368.15" stroke="#c8102e" stroke-width="1" fill="none"/>
<text x="109.50" y="381.74" font-size="7.6" text-anchor="start" fill="#262626" stroke="#262626" stroke-width="0.1">Biopsy site</text>
<line x1="99.50" y1="387.60" x2="107.50" y2="387.60" stroke="#0f4c8a" stroke-width="1.9"/>
<text x="109.50" y="390.34" font-size="7.6" text-anchor="start" fill="#262626" textLength="53.00" lengthAdjust="spacingAndGlyphs" stroke="#262626" stroke-width="0.1">Nodal (n = 100)</text>
<line x1="99.50" y1="395.80" x2="107.50" y2="395.80" stroke="#c8102e" stroke-width="1.9"/>
<text x="109.50" y="398.54" font-size="7.6" text-anchor="start" fill="#262626" textLength="56.00" lengthAdjust="spacingAndGlyphs" stroke="#262626" stroke-width="0.1">ExNodal (n = 70)</text>
<text x="58.75" y="395.01" font-size="7.8" text-anchor="start" fill="#262626" textLength="33.75" lengthAdjust="spacingAndGlyphs" stroke="#262626" stroke-width="0.2"><tspan font-style="italic">P</tspan> = .6748</text>
<line x1="52.40" y1="438.75" x2="52.40" y2="542.90" stroke="#2e2e2e" stroke-width="1.45"/>
<line x1="51.70" y1="542.20" x2="210.90" y2="542.20" stroke="#2e2e2e" stroke-width="1.45"/>
<line x1="49.20" y1="542.20" x2="52.40" y2="542.20" stroke="#2e2e2e" stroke-width="1.0"/>
<text x="47.00" y="545.19" font-size="8.3" text-anchor="end" fill="#262626" stroke="#262626" stroke-width="0.1">0.0</text>
<line x1="49.20" y1="522.36" x2="52.40" y2="522.36" stroke="#2e2e2e" stroke-width="1.0"/>
<text x="47.00" y="525.35" font-size="8.3" text-anchor="end" fill="#262626" stroke="#262626" stroke-width="0.1">0.2</text>
<line x1="49.20" y1="502.52" x2="52.40" y2="502.52" stroke="#2e2e2e" stroke-width="1.0"/>
<text x="47.00" y="505.51" font-size="8.3" text-anchor="end" fill="#262626" stroke="#262626" stroke-width="0.1">0.4</text>
<line x1="49.20" y1="482.68" x2="52.40" y2="482.68" stroke="#2e2e2e" stroke-width="1.0"/>
<text x="47.00" y="485.67" font-size="8.3" text-anchor="end" fill="#262626" stroke="#262626" stroke-width="0.1">0.6</text>
<line x1="49.20" y1="462.84" x2="52.40" y2="462.84" stroke="#2e2e2e" stroke-width="1.0"/>
<text x="47.00" y="465.83" font-size="8.3" text-anchor="end" fill="#262626" stroke="#262626" stroke-width="0.1">0.8</text>
<line x1="49.20" y1="443.00" x2="52.40" y2="443.00" stroke="#2e2e2e" stroke-width="1.0"/>
<text x="47.00" y="445.99" font-size="8.3" text-anchor="end" fill="#262626" stroke="#262626" stroke-width="0.1">1.0</text>
<line x1="52.40" y1="542.20" x2="52.40" y2="545.40" stroke="#2e2e2e" stroke-width="1.0"/>
<text x="52.40" y="554.99" font-size="8.3" text-anchor="middle" fill="#262626" stroke="#262626" stroke-width="0.1">0</text>
<line x1="70.85" y1="542.20" x2="70.85" y2="545.40" stroke="#2e2e2e" stroke-width="1.0"/>
<text x="70.85" y="554.99" font-size="8.3" text-anchor="middle" fill="#262626" stroke="#262626" stroke-width="0.1">12</text>
<line x1="89.30" y1="542.20" x2="89.30" y2="545.40" stroke="#2e2e2e" stroke-width="1.0"/>
<text x="89.30" y="554.99" font-size="8.3" text-anchor="middle" fill="#262626" stroke="#262626" stroke-width="0.1">24</text>
<line x1="107.75" y1="542.20" x2="107.75" y2="545.40" stroke="#2e2e2e" stroke-width="1.0"/>
<text x="107.75" y="554.99" font-size="8.3" text-anchor="middle" fill="#262626" stroke="#262626" stroke-width="0.1">36</text>
<line x1="126.20" y1="542.20" x2="126.20" y2="545.40" stroke="#2e2e2e" stroke-width="1.0"/>
<text x="126.20" y="554.99" font-size="8.3" text-anchor="middle" fill="#262626" stroke="#262626" stroke-width="0.1">48</text>
<line x1="144.65" y1="542.20" x2="144.65" y2="545.40" stroke="#2e2e2e" stroke-width="1.0"/>
<text x="144.65" y="554.99" font-size="8.3" text-anchor="middle" fill="#262626" stroke="#262626" stroke-width="0.1">60</text>
<line x1="163.10" y1="542.20" x2="163.10" y2="545.40" stroke="#2e2e2e" stroke-width="1.0"/>
<text x="163.10" y="554.99" font-size="8.3" text-anchor="middle" fill="#262626" stroke="#262626" stroke-width="0.1">72</text>
<line x1="181.55" y1="542.20" x2="181.55" y2="545.40" stroke="#2e2e2e" stroke-width="1.0"/>
<text x="181.55" y="554.99" font-size="8.3" text-anchor="middle" fill="#262626" stroke="#262626" stroke-width="0.1">84</text>
<line x1="200.00" y1="542.20" x2="200.00" y2="545.40" stroke="#2e2e2e" stroke-width="1.0"/>
<text x="200.00" y="554.99" font-size="8.3" text-anchor="middle" fill="#262626" stroke="#262626" stroke-width="0.1">96</text>
<text x="132.10" y="441.87" font-size="10.2" text-anchor="middle" fill="#262626" textLength="24.25" lengthAdjust="spacingAndGlyphs" stroke="#262626" stroke-width="0.2">Nodal</text>
<text x="131.90" y="566.06" font-size="9.9" text-anchor="middle" fill="#262626" textLength="91.25" lengthAdjust="spacingAndGlyphs" stroke="#262626" stroke-width="0.38">Time since diagnosis (months)</text>
<path d="M52.40,443.00 L58.70,443.00 L58.70,445.88 L62.55,445.88 L62.55,448.75 L97.76,448.75 L97.76,452.52 L105.44,452.52 L105.44,456.09 L126.97,456.09 L126.97,465.72 L205.53,465.72" fill="none" stroke="#561a6e" stroke-width="1.5" stroke-linejoin="miter"/>
<path d="M78.69,446.95 V450.55 M88.07,446.95 V450.55 M98.68,450.72 V454.32 M106.21,454.29 V457.89 M113.75,454.29 V457.89 M116.21,454.29 V457.89 M130.04,463.92 V467.52 M132.35,463.92 V467.52 M136.19,463.92 V467.52 M140.04,463.92 V467.52 M142.50,463.92 V467.52 M143.73,463.92 V467.52 M147.42,463.92 V467.52 M198.77,463.92 V467.52 M205.53,463.92 V467.52" stroke="#561a6e" stroke-width="1" fill="none"/>
<path d="M52.40,443.00 L53.78,443.00 L53.78,446.57 L55.01,446.57 L55.01,450.64 L66.24,450.64 L66.24,454.51 L69.93,454.51 L69.93,461.85 L71.62,461.85 L71.62,466.91 L93.76,466.91 L93.76,471.87 L201.54,471.87" fill="none" stroke="#33b24a" stroke-width="1.5" stroke-linejoin="miter"/>
<path d="M74.39,465.11 V468.71 M76.23,465.11 V468.71 M85.61,465.11 V468.71 M101.14,470.07 V473.67 M106.21,470.07 V473.67 M111.13,470.07 V473.67 M119.90,470.07 V473.67 M124.97,470.07 V473.67 M134.96,470.07 V473.67 M136.19,470.07 V473.67 M141.11,470.07 V473.67 M142.50,470.07 V473.67 M144.96,470.07 V473.67 M149.88,470.07 V473.67 M153.72,470.07 V473.67 M167.41,470.07 V473.67 M189.85,470.07 V473.67 M201.23,470.07 V473.67" stroke="#33b24a" stroke-width="1" fill="none"/>
<path d="M52.40,443.00 L53.32,443.00 L53.32,450.94 L54.71,450.94 L54.71,458.77 L64.70,458.77 L64.70,464.43 L65.62,464.43 L65.62,480.00 L68.54,480.00 L68.54,485.26 L78.08,485.26 L78.08,490.62 L119.90,490.62 L119.90,501.73 L144.96,501.73 L144.96,527.52 L159.26,527.52" fill="none" stroke="#0f4c8a" stroke-width="1.5" stroke-linejoin="miter"/>
<path d="M91.30,488.82 V492.42 M93.14,488.82 V492.42 M94.99,488.82 V492.42 M107.44,488.82 V492.42 M113.59,488.82 V492.42 M117.44,488.82 V492.42 M134.96,499.93 V503.53 M143.57,499.93 V503.53 M159.26,525.72 V529.32" stroke="#0f4c8a" stroke-width="1" fill="none"/>
<path d="M52.40,443.00 L53.94,443.00 L53.94,449.20 L55.63,449.20 L55.63,463.14 L63.16,463.14 L63.16,470.58 L66.24,470.58 L66.24,477.52 L67.47,477.52 L67.47,491.21 L75.00,491.21 L75.00,498.06 L83.77,498.06 L83.77,505.00 L87.45,505.00 L87.45,512.24 L89.76,512.24 L89.76,519.38 L106.67,519.38 L106.67,526.53 L180.01,526.53" fill="none" stroke="#c8102e" stroke-width="1.5" stroke-linejoin="miter"/>
<path d="M111.59,524.73 V528.33 M113.90,524.73 V528.33 M116.21,524.73 V528.33 M180.01,524.73 V528.33" stroke="#c8102e" stroke-width="1" fill="none"/>
<line x1="167.50" y1="493.00" x2="173.00" y2="493.00" stroke="#561a6e" stroke-width="1.9"/>
<text x="174.50" y="495.74" font-size="7.6" text-anchor="start" fill="#262626" textLength="41.75" lengthAdjust="spacingAndGlyphs" stroke="#262626" stroke-width="0.1">3 pt (n = 35)</text>
<line x1="167.50" y1="500.75" x2="173.00" y2="500.75" stroke="#33b24a" stroke-width="1.9"/>
<text x="174.50" y="503.49" font-size="7.6" text-anchor="start" fill="#262626" textLength="41.75" lengthAdjust="spacingAndGlyphs" stroke="#262626" stroke-width="0.1">2 pt (n = 28)</text>
<line x1="167.50" y1="508.25" x2="173.00" y2="508.25" stroke="#0f4c8a" stroke-width="1.9"/>
<text x="174.50" y="510.99" font-size="7.6" text-anchor="start" fill="#262626" textLength="41.75" lengthAdjust="spacingAndGlyphs" stroke="#262626" stroke-width="0.1">1 pt (n = 21)</text>
<line x1="167.50" y1="515.50" x2="173.00" y2="515.50" stroke="#c8102e" stroke-width="1.9"/>
<text x="174.50" y="518.24" font-size="7.6" text-anchor="start" fill="#262626" textLength="41.75" lengthAdjust="spacingAndGlyphs" stroke="#262626" stroke-width="0.1">0 pt (n = 16)</text>
<text x="56.25" y="533.49" font-size="7.6" text-anchor="start" fill="#262626" textLength="40.00" lengthAdjust="spacingAndGlyphs" stroke="#262626" stroke-width="0.2"><tspan font-style="italic">P</tspan> = 1.5e-05</text>
<line x1="52.60" y1="580.50" x2="52.60" y2="686.10" stroke="#2e2e2e" stroke-width="1.45"/>
<line x1="51.90" y1="685.40" x2="212.50" y2="685.40" stroke="#2e2e2e" stroke-width="1.45"/>
<line x1="49.40" y1="685.40" x2="52.60" y2="685.40" stroke="#2e2e2e" stroke-width="1.0"/>
<line x1="49.40" y1="665.32" x2="52.60" y2="665.32" stroke="#2e2e2e" stroke-width="1.0"/>
<text x="47.00" y="668.31" font-size="8.3" text-anchor="end" fill="#262626" stroke="#262626" stroke-width="0.1">0.2</text>
<line x1="49.40" y1="645.24" x2="52.60" y2="645.24" stroke="#2e2e2e" stroke-width="1.0"/>
<text x="47.00" y="648.23" font-size="8.3" text-anchor="end" fill="#262626" stroke="#262626" stroke-width="0.1">0.4</text>
<line x1="49.40" y1="625.16" x2="52.60" y2="625.16" stroke="#2e2e2e" stroke-width="1.0"/>
<text x="47.00" y="628.15" font-size="8.3" text-anchor="end" fill="#262626" stroke="#262626" stroke-width="0.1">0.6</text>
<line x1="49.40" y1="605.08" x2="52.60" y2="605.08" stroke="#2e2e2e" stroke-width="1.0"/>
<text x="47.00" y="608.07" font-size="8.3" text-anchor="end" fill="#262626" stroke="#262626" stroke-width="0.1">0.8</text>
<line x1="49.40" y1="585.00" x2="52.60" y2="585.00" stroke="#2e2e2e" stroke-width="1.0"/>
<text x="47.00" y="587.99" font-size="8.3" text-anchor="end" fill="#262626" stroke="#262626" stroke-width="0.1">1.0</text>
<line x1="52.60" y1="685.40" x2="52.60" y2="688.60" stroke="#2e2e2e" stroke-width="1.0"/>
<text x="52.60" y="697.49" font-size="8.3" text-anchor="middle" fill="#262626" stroke="#262626" stroke-width="0.1">0.00</text>
<line x1="71.19" y1="685.40" x2="71.19" y2="688.60" stroke="#2e2e2e" stroke-width="1.0"/>
<text x="71.19" y="697.49" font-size="8.3" text-anchor="middle" fill="#262626" stroke="#262626" stroke-width="0.1">12</text>
<line x1="89.78" y1="685.40" x2="89.78" y2="688.60" stroke="#2e2e2e" stroke-width="1.0"/>
<text x="89.78" y="697.49" font-size="8.3" text-anchor="middle" fill="#262626" stroke="#262626" stroke-width="0.1">24</text>
<line x1="108.36" y1="685.40" x2="108.36" y2="688.60" stroke="#2e2e2e" stroke-width="1.0"/>
<text x="108.36" y="697.49" font-size="8.3" text-anchor="middle" fill="#262626" stroke="#262626" stroke-width="0.1">36</text>
<line x1="126.95" y1="685.40" x2="126.95" y2="688.60" stroke="#2e2e2e" stroke-width="1.0"/>
<text x="126.95" y="697.49" font-size="8.3" text-anchor="middle" fill="#262626" stroke="#262626" stroke-width="0.1">48</text>
<line x1="145.54" y1="685.40" x2="145.54" y2="688.60" stroke="#2e2e2e" stroke-width="1.0"/>
<text x="145.54" y="697.49" font-size="8.3" text-anchor="middle" fill="#262626" stroke="#262626" stroke-width="0.1">60</text>
<line x1="164.13" y1="685.40" x2="164.13" y2="688.60" stroke="#2e2e2e" stroke-width="1.0"/>
<text x="164.13" y="697.49" font-size="8.3" text-anchor="middle" fill="#262626" stroke="#262626" stroke-width="0.1">72</text>
<line x1="182.72" y1="685.40" x2="182.72" y2="688.60" stroke="#2e2e2e" stroke-width="1.0"/>
<text x="182.72" y="697.49" font-size="8.3" text-anchor="middle" fill="#262626" stroke="#262626" stroke-width="0.1">84</text>
<line x1="201.30" y1="685.40" x2="201.30" y2="688.60" stroke="#2e2e2e" stroke-width="1.0"/>
<text x="201.30" y="697.49" font-size="8.3" text-anchor="middle" fill="#262626" stroke="#262626" stroke-width="0.1">96</text>
<text x="132.90" y="579.07" font-size="10.2" text-anchor="middle" fill="#262626" textLength="43.25" lengthAdjust="spacingAndGlyphs" stroke="#262626" stroke-width="0.2">Extranodal</text>
<text x="132.60" y="711.06" font-size="9.9" text-anchor="middle" fill="#262626" textLength="91.25" lengthAdjust="spacingAndGlyphs" stroke="#262626" stroke-width="0.38">Time since diagnosis (months)</text>
<path d="M52.60,585.00 L192.63,585.00" fill="none" stroke="#561a6e" stroke-width="1.5" stroke-linejoin="miter"/>
<path d="M117.66,583.20 V586.80 M125.25,583.20 V586.80 M130.20,583.20 V586.80 M156.38,583.20 V586.80 M161.49,583.20 V586.80 M185.19,583.20 V586.80 M192.63,583.20 V586.80" stroke="#561a6e" stroke-width="1" fill="none"/>
<path d="M52.60,585.00 L61.43,585.00 L61.43,591.63 L70.88,591.63 L70.88,598.35 L122.77,598.35 L122.77,605.08 L141.51,605.08 L141.51,615.52 L156.38,615.52" fill="none" stroke="#33b24a" stroke-width="1.5" stroke-linejoin="miter"/>
<path d="M72.74,596.55 V600.15 M73.36,596.55 V600.15 M75.22,596.55 V600.15 M76.45,596.55 V600.15 M83.89,596.55 V600.15 M105.27,596.55 V600.15 M107.74,596.55 V600.15 M111.46,596.55 V600.15 M116.42,596.55 V600.15 M122.77,603.28 V606.88 M128.97,603.28 V606.88 M135.16,603.28 V606.88 M146.47,613.72 V617.32 M151.43,613.72 V617.32 M156.38,613.72 V617.32" stroke="#33b24a" stroke-width="1" fill="none"/>
<path d="M52.60,585.00 L58.33,585.00 L58.33,597.55 L59.57,597.55 L59.57,603.77 L66.39,603.77 L66.39,610.00 L67.63,610.00 L67.63,616.22 L68.24,616.22 L68.24,628.77 L83.73,628.77 L83.73,635.00 L85.75,635.00 L85.75,641.22 L160.41,641.22 L160.41,685.40 L160.41,685.40" fill="none" stroke="#0f4c8a" stroke-width="1.5" stroke-linejoin="miter"/>
<path d="M108.98,639.42 V643.02 M116.42,639.42 V643.02 M126.49,639.42 V643.02 M132.68,639.42 V643.02 M135.16,639.42 V643.02 M140.27,639.42 V643.02 M152.67,639.42 V643.02" stroke="#0f4c8a" stroke-width="1" fill="none"/>
<path d="M52.60,585.00 L56.47,585.00 L56.47,591.73 L57.71,591.73 L57.71,604.98 L60.19,604.98 L60.19,611.81 L64.53,611.81 L64.53,618.43 L66.39,618.43 L66.39,631.49 L74.60,631.49 L74.60,638.11 L77.07,638.11 L77.07,645.04 L83.73,645.04 L83.73,651.87 L87.92,651.87 L87.92,660.00 L157.16,660.00" fill="none" stroke="#c8102e" stroke-width="1.5" stroke-linejoin="miter"/>
<path d="M108.98,658.20 V661.80 M151.43,658.20 V661.80 M156.38,658.20 V661.80" stroke="#c8102e" stroke-width="1" fill="none"/>
<line x1="167.00" y1="657.00" x2="172.50" y2="657.00" stroke="#561a6e" stroke-width="1.9"/>
<text x="174.00" y="659.74" font-size="7.6" text-anchor="start" fill="#262626" stroke="#262626" stroke-width="0.1">3 pt (n = 9)</text>
<line x1="167.00" y1="664.50" x2="172.50" y2="664.50" stroke="#33b24a" stroke-width="1.9"/>
<text x="174.00" y="667.24" font-size="7.6" text-anchor="start" fill="#262626" stroke="#262626" stroke-width="0.1">2 pt (n = 30)</text>
<line x1="167.00" y1="672.00" x2="172.50" y2="672.00" stroke="#0f4c8a" stroke-width="1.9"/>
<text x="174.00" y="674.74" font-size="7.6" text-anchor="start" fill="#262626" stroke="#262626" stroke-width="0.1">1 pt (n = 16)</text>
<line x1="167.00" y1="679.25" x2="172.50" y2="679.25" stroke="#c8102e" stroke-width="1.9"/>
<text x="174.00" y="681.99" font-size="7.6" text-anchor="start" fill="#262626" stroke="#262626" stroke-width="0.1">0 pt (n = 15)</text>
<text x="58.00" y="675.99" font-size="7.6" text-anchor="start" fill="#262626" textLength="39.50" lengthAdjust="spacingAndGlyphs" stroke="#262626" stroke-width="0.2"><tspan font-style="italic">P</tspan> = 2.1e-05</text>
<line x1="326.50" y1="309.50" x2="326.50" y2="404.20" stroke="#2e2e2e" stroke-width="1.45"/>
<line x1="325.80" y1="403.50" x2="477.60" y2="403.50" stroke="#2e2e2e" stroke-width="1.45"/>
<line x1="323.30" y1="403.50" x2="326.50" y2="403.50" stroke="#2e2e2e" stroke-width="1.0"/>
<text x="321.20" y="406.49" font-size="8.3" text-anchor="end" fill="#262626" stroke="#262626" stroke-width="0.1">0.0</text>
<line x1="323.30" y1="385.45" x2="326.50" y2="385.45" stroke="#2e2e2e" stroke-width="1.0"/>
<text x="321.20" y="388.44" font-size="8.3" text-anchor="end" fill="#262626" stroke="#262626" stroke-width="0.1">0.2</text>
<line x1="323.30" y1="367.40" x2="326.50" y2="367.40" stroke="#2e2e2e" stroke-width="1.0"/>
<text x="321.20" y="370.39" font-size="8.3" text-anchor="end" fill="#262626" stroke="#262626" stroke-width="0.1">0.4</text>
<line x1="323.30" y1="349.35" x2="326.50" y2="349.35" stroke="#2e2e2e" stroke-width="1.0"/>
<text x="321.20" y="352.34" font-size="8.3" text-anchor="end" fill="#262626" stroke="#262626" stroke-width="0.1">0.6</text>
<line x1="323.30" y1="331.30" x2="326.50" y2="331.30" stroke="#2e2e2e" stroke-width="1.0"/>
<text x="321.20" y="334.29" font-size="8.3" text-anchor="end" fill="#262626" stroke="#262626" stroke-width="0.1">0.8</text>
<line x1="323.30" y1="313.25" x2="326.50" y2="313.25" stroke="#2e2e2e" stroke-width="1.0"/>
<text x="321.20" y="316.24" font-size="8.3" text-anchor="end" fill="#262626" stroke="#262626" stroke-width="0.1">1.0</text>
<line x1="326.50" y1="403.50" x2="326.50" y2="406.70" stroke="#2e2e2e" stroke-width="1.0"/>
<text x="326.50" y="416.74" font-size="8.3" text-anchor="middle" fill="#262626" stroke="#262626" stroke-width="0.1">0</text>
<line x1="344.01" y1="403.50" x2="344.01" y2="406.70" stroke="#2e2e2e" stroke-width="1.0"/>
<text x="344.01" y="416.74" font-size="8.3" text-anchor="middle" fill="#262626" stroke="#262626" stroke-width="0.1">12</text>
<line x1="361.52" y1="403.50" x2="361.52" y2="406.70" stroke="#2e2e2e" stroke-width="1.0"/>
<text x="361.52" y="416.74" font-size="8.3" text-anchor="middle" fill="#262626" stroke="#262626" stroke-width="0.1">24</text>
<line x1="379.02" y1="403.50" x2="379.02" y2="406.70" stroke="#2e2e2e" stroke-width="1.0"/>
<text x="379.02" y="416.74" font-size="8.3" text-anchor="middle" fill="#262626" stroke="#262626" stroke-width="0.1">36</text>
<line x1="396.53" y1="403.50" x2="396.53" y2="406.70" stroke="#2e2e2e" stroke-width="1.0"/>
<text x="396.53" y="416.74" font-size="8.3" text-anchor="middle" fill="#262626" stroke="#262626" stroke-width="0.1">48</text>
<line x1="414.04" y1="403.50" x2="414.04" y2="406.70" stroke="#2e2e2e" stroke-width="1.0"/>
<text x="414.04" y="416.74" font-size="8.3" text-anchor="middle" fill="#262626" stroke="#262626" stroke-width="0.1">60</text>
<line x1="431.55" y1="403.50" x2="431.55" y2="406.70" stroke="#2e2e2e" stroke-width="1.0"/>
<text x="431.55" y="416.74" font-size="8.3" text-anchor="middle" fill="#262626" stroke="#262626" stroke-width="0.1">72</text>
<line x1="449.06" y1="403.50" x2="449.06" y2="406.70" stroke="#2e2e2e" stroke-width="1.0"/>
<text x="449.06" y="416.74" font-size="8.3" text-anchor="middle" fill="#262626" stroke="#262626" stroke-width="0.1">84</text>
<line x1="466.56" y1="403.50" x2="466.56" y2="406.70" stroke="#2e2e2e" stroke-width="1.0"/>
<text x="466.56" y="416.74" font-size="8.3" text-anchor="middle" fill="#262626" stroke="#262626" stroke-width="0.1">96</text>
<g transform="translate(298.90,356.60) rotate(-90)"><text x="0" y="3.74" font-size="10.4" text-anchor="middle" fill="#262626" textLength="51.00" lengthAdjust="spacingAndGlyphs" stroke="#262626" stroke-width="0.35">DFS (probability)</text></g>
<text x="402.10" y="429.06" font-size="9.9" text-anchor="middle" fill="#262626" textLength="91.75" lengthAdjust="spacingAndGlyphs" stroke="#262626" stroke-width="0.38">Time since diagnosis (months)</text>
<path d="M326.50,313.25 L328.98,313.25 L328.98,314.87 L331.46,314.87 L331.46,316.77 L334.67,316.77 L334.67,319.93 L337.73,319.93 L337.73,321.73 L339.63,321.73 L339.63,324.26 L340.94,324.26 L340.94,329.86 L342.69,329.86 L342.69,332.38 L345.32,332.38 L345.32,334.28 L350.87,334.28 L350.87,336.08 L357.14,336.08 L357.14,338.07 L365.75,338.07 L365.75,339.51 L376.69,339.51 L376.69,340.96 L397.26,340.96 L397.26,343.84 L409.66,343.84 L409.66,348.45 L471.96,348.45" fill="none" stroke="#0f4c8a" stroke-width="1.5" stroke-linejoin="miter"/>
<path d="M342.55,328.06 V331.66 M346.20,332.48 V336.08 M348.68,332.48 V336.08 M352.47,334.28 V337.88 M356.26,334.28 V337.88 M362.54,336.27 V339.87 M367.50,337.71 V341.31 M373.77,337.71 V341.31 M378.73,339.16 V342.76 M382.53,339.16 V342.76 M385.01,339.16 V342.76 M391.28,339.16 V342.76 M393.76,339.16 V342.76 M394.93,339.16 V342.76 M395.51,339.16 V342.76 M397.55,342.04 V345.64 M398.72,342.04 V345.64 M400.03,342.04 V345.64 M402.51,342.04 V345.64 M404.99,342.04 V345.64 M408.79,342.04 V345.64 M413.75,346.65 V350.25 M419.44,346.65 V350.25 M423.82,346.65 V350.25 M426.30,346.65 V350.25 M435.05,346.65 V350.25 M456.93,346.65 V350.25 M471.96,346.65 V350.25" stroke="#0f4c8a" stroke-width="1" fill="none"/>
<path d="M326.50,313.25 L327.96,313.25 L327.96,315.51 L330.29,315.51 L330.29,317.40 L332.77,317.40 L332.77,320.47 L335.84,320.47 L335.84,322.37 L339.05,322.37 L339.05,324.26 L340.21,324.26 L340.21,327.96 L341.53,327.96 L341.53,331.12 L343.42,331.12 L343.42,333.01 L347.07,333.01 L347.07,336.08 L355.83,336.08 L355.83,337.35 L358.45,337.35 L358.45,339.87 L360.49,339.87 L360.49,343.30 L371.00,343.30 L371.00,345.02 L389.67,345.02 L389.67,347.91 L391.72,347.91 L391.72,349.80 L413.60,349.80 L413.60,355.40 L428.19,355.40 L428.19,370.83 L451.24,370.83" fill="none" stroke="#c8102e" stroke-width="1.5" stroke-linejoin="miter"/>
<path d="M360.06,338.07 V341.67 M366.18,341.50 V345.10 M369.98,341.50 V345.10 M374.94,343.22 V346.82 M378.73,343.22 V346.82 M381.21,343.22 V346.82 M385.01,343.22 V346.82 M389.97,346.11 V349.71 M392.45,348.00 V351.60 M397.55,348.00 V351.60 M401.20,348.00 V351.60 M404.99,348.00 V351.60 M408.79,348.00 V351.60 M415.06,353.60 V357.20 M418.71,353.60 V357.20 M421.19,353.60 V357.20 M428.19,369.03 V372.63 M446.28,369.03 V372.63 M451.24,369.03 V372.63" stroke="#c8102e" stroke-width="1" fill="none"/>
<text x="382.00" y="383.44" font-size="7.6" text-anchor="start" fill="#262626" stroke="#262626" stroke-width="0.1">Hans criteria</text>
<line x1="372.00" y1="390.30" x2="380.00" y2="390.30" stroke="#0f4c8a" stroke-width="1.9"/>
<text x="382.50" y="393.04" font-size="7.6" text-anchor="start" fill="#262626" textLength="46.25" lengthAdjust="spacingAndGlyphs" stroke="#262626" stroke-width="0.1">GCB (n = 76)</text>
<line x1="372.00" y1="397.80" x2="380.00" y2="397.80" stroke="#c8102e" stroke-width="1.9"/>
<text x="382.50" y="400.54" font-size="7.6" text-anchor="start" fill="#262626" textLength="56.75" lengthAdjust="spacingAndGlyphs" stroke="#262626" stroke-width="0.1">Non-GC (n = 84)</text>
<text x="331.25" y="396.31" font-size="7.8" text-anchor="start" fill="#262626" textLength="33.75" lengthAdjust="spacingAndGlyphs" stroke="#262626" stroke-width="0.2"><tspan font-style="italic">P</tspan> = .4379</text>
<line x1="326.90" y1="441.25" x2="326.90" y2="543.10" stroke="#2e2e2e" stroke-width="1.45"/>
<line x1="326.20" y1="542.40" x2="485.75" y2="542.40" stroke="#2e2e2e" stroke-width="1.45"/>
<line x1="323.70" y1="542.40" x2="326.90" y2="542.40" stroke="#2e2e2e" stroke-width="1.0"/>
<text x="320.00" y="545.39" font-size="8.3" text-anchor="end" fill="#262626" stroke="#262626" stroke-width="0.1">0.0</text>
<line x1="323.70" y1="523.17" x2="326.90" y2="523.17" stroke="#2e2e2e" stroke-width="1.0"/>
<text x="320.00" y="526.16" font-size="8.3" text-anchor="end" fill="#262626" stroke="#262626" stroke-width="0.1">0.2</text>
<line x1="323.70" y1="503.94" x2="326.90" y2="503.94" stroke="#2e2e2e" stroke-width="1.0"/>
<text x="320.00" y="506.93" font-size="8.3" text-anchor="end" fill="#262626" stroke="#262626" stroke-width="0.1">0.4</text>
<line x1="323.70" y1="484.71" x2="326.90" y2="484.71" stroke="#2e2e2e" stroke-width="1.0"/>
<text x="320.00" y="487.70" font-size="8.3" text-anchor="end" fill="#262626" stroke="#262626" stroke-width="0.1">0.6</text>
<line x1="323.70" y1="465.48" x2="326.90" y2="465.48" stroke="#2e2e2e" stroke-width="1.0"/>
<text x="320.00" y="468.47" font-size="8.3" text-anchor="end" fill="#262626" stroke="#262626" stroke-width="0.1">0.8</text>
<line x1="323.70" y1="446.25" x2="326.90" y2="446.25" stroke="#2e2e2e" stroke-width="1.0"/>
<text x="320.00" y="449.24" font-size="8.3" text-anchor="end" fill="#262626" stroke="#262626" stroke-width="0.1">1.0</text>
<line x1="326.90" y1="542.40" x2="326.90" y2="545.60" stroke="#2e2e2e" stroke-width="1.0"/>
<text x="326.90" y="554.99" font-size="8.3" text-anchor="middle" fill="#262626" stroke="#262626" stroke-width="0.1">0</text>
<line x1="345.38" y1="542.40" x2="345.38" y2="545.60" stroke="#2e2e2e" stroke-width="1.0"/>
<text x="345.38" y="554.99" font-size="8.3" text-anchor="middle" fill="#262626" stroke="#262626" stroke-width="0.1">12</text>
<line x1="363.86" y1="542.40" x2="363.86" y2="545.60" stroke="#2e2e2e" stroke-width="1.0"/>
<text x="363.86" y="554.99" font-size="8.3" text-anchor="middle" fill="#262626" stroke="#262626" stroke-width="0.1">24</text>
<line x1="382.34" y1="542.40" x2="382.34" y2="545.60" stroke="#2e2e2e" stroke-width="1.0"/>
<text x="382.34" y="554.99" font-size="8.3" text-anchor="middle" fill="#262626" stroke="#262626" stroke-width="0.1">36</text>
<line x1="400.82" y1="542.40" x2="400.82" y2="545.60" stroke="#2e2e2e" stroke-width="1.0"/>
<text x="400.82" y="554.99" font-size="8.3" text-anchor="middle" fill="#262626" stroke="#262626" stroke-width="0.1">48</text>
<line x1="419.30" y1="542.40" x2="419.30" y2="545.60" stroke="#2e2e2e" stroke-width="1.0"/>
<text x="419.30" y="554.99" font-size="8.3" text-anchor="middle" fill="#262626" stroke="#262626" stroke-width="0.1">60</text>
<line x1="437.78" y1="542.40" x2="437.78" y2="545.60" stroke="#2e2e2e" stroke-width="1.0"/>
<text x="437.78" y="554.99" font-size="8.3" text-anchor="middle" fill="#262626" stroke="#262626" stroke-width="0.1">72</text>
<line x1="456.26" y1="542.40" x2="456.26" y2="545.60" stroke="#2e2e2e" stroke-width="1.0"/>
<text x="456.26" y="554.99" font-size="8.3" text-anchor="middle" fill="#262626" stroke="#262626" stroke-width="0.1">84</text>
<line x1="474.74" y1="542.40" x2="474.74" y2="545.60" stroke="#2e2e2e" stroke-width="1.0"/>
<text x="474.74" y="554.99" font-size="8.3" text-anchor="middle" fill="#262626" stroke="#262626" stroke-width="0.1">96</text>
<text x="405.00" y="443.67" font-size="10.2" text-anchor="middle" fill="#262626" textLength="42.50" lengthAdjust="spacingAndGlyphs" stroke="#262626" stroke-width="0.2">GCB type</text>
<text x="406.25" y="565.56" font-size="9.9" text-anchor="middle" fill="#262626" textLength="91.50" lengthAdjust="spacingAndGlyphs" stroke="#262626" stroke-width="0.38">Time since diagnosis (months)</text>
<path d="M326.90,446.25 L333.37,446.25 L333.37,450.29 L337.06,450.29 L337.06,454.71 L401.28,454.71 L401.28,465.77 L479.98,465.77" fill="none" stroke="#561a6e" stroke-width="1.5" stroke-linejoin="miter"/>
<path d="M352.77,452.91 V456.51 M362.78,452.91 V456.51 M378.95,452.91 V456.51 M380.95,452.91 V456.51 M388.04,452.91 V456.51 M398.82,452.91 V456.51 M403.75,463.97 V467.57 M406.21,463.97 V467.57 M417.45,463.97 V467.57 M429.46,463.97 V467.57 M431.31,463.97 V467.57 M479.98,463.97 V467.57" stroke="#561a6e" stroke-width="1" fill="none"/>
<path d="M326.90,446.25 L335.22,446.25 L335.22,449.71 L345.07,449.71 L345.07,456.73 L368.02,456.73 L368.02,461.63 L414.53,461.63 L414.53,471.73 L464.88,471.73" fill="none" stroke="#33b24a" stroke-width="1.5" stroke-linejoin="miter"/>
<path d="M347.07,454.93 V458.53 M349.08,454.93 V458.53 M350.31,454.93 V458.53 M357.08,454.93 V458.53 M360.32,454.93 V458.53 M381.57,459.83 V463.43 M403.75,459.83 V463.43 M408.67,459.83 V463.43 M413.76,459.83 V463.43 M418.68,469.93 V473.53 M423.77,469.93 V473.53 M425.61,469.93 V473.53 M429.00,469.93 V473.53 M441.48,469.93 V473.53 M464.88,469.93 V473.53" stroke="#33b24a" stroke-width="1" fill="none"/>
<path d="M326.90,446.25 L328.44,446.25 L328.44,452.69 L329.06,452.69 L329.06,458.85 L339.68,458.85 L339.68,470.10 L340.91,470.10 L340.91,478.27 L342.76,478.27 L342.76,484.71 L352.46,484.71 L352.46,490.77 L357.08,490.77 L357.08,497.59 L433.78,497.59" fill="none" stroke="#0f4c8a" stroke-width="1.5" stroke-linejoin="miter"/>
<path d="M365.55,495.79 V499.39 M370.02,495.79 V499.39 M383.73,495.79 V499.39 M390.04,495.79 V499.39 M408.06,495.79 V499.39 M433.78,495.79 V499.39" stroke="#0f4c8a" stroke-width="1" fill="none"/>
<path d="M326.90,446.25 L330.90,446.25 L330.90,454.23 L333.98,454.23 L333.98,462.02 L338.45,462.02 L338.45,470.10 L340.30,470.10 L340.30,493.84 L341.53,493.84 L341.53,502.59 L350.92,502.59 L350.92,510.09 L380.95,510.09 L380.95,520.96 L429.46,520.96" fill="none" stroke="#c8102e" stroke-width="1.5" stroke-linejoin="miter"/>
<path d="M359.55,508.29 V511.89 M388.81,519.16 V522.76 M429.46,519.16 V522.76" stroke="#c8102e" stroke-width="1" fill="none"/>
<line x1="437.50" y1="513.75" x2="442.50" y2="513.75" stroke="#561a6e" stroke-width="1.9"/>
<text x="443.75" y="516.49" font-size="7.6" text-anchor="start" fill="#262626" textLength="42.50" lengthAdjust="spacingAndGlyphs" stroke="#262626" stroke-width="0.1">3 pt (n = 22)</text>
<line x1="437.50" y1="521.25" x2="442.50" y2="521.25" stroke="#33b24a" stroke-width="1.9"/>
<text x="443.75" y="523.99" font-size="7.6" text-anchor="start" fill="#262626" textLength="42.50" lengthAdjust="spacingAndGlyphs" stroke="#262626" stroke-width="0.1">2 pt (n = 27)</text>
<line x1="437.50" y1="528.75" x2="442.50" y2="528.75" stroke="#0f4c8a" stroke-width="1.9"/>
<text x="443.75" y="531.49" font-size="7.6" text-anchor="start" fill="#262626" textLength="42.50" lengthAdjust="spacingAndGlyphs" stroke="#262626" stroke-width="0.1">1 pt (n = 15)</text>
<line x1="437.50" y1="536.25" x2="442.50" y2="536.25" stroke="#c8102e" stroke-width="1.9"/>
<text x="443.75" y="538.99" font-size="7.6" text-anchor="start" fill="#262626" textLength="42.50" lengthAdjust="spacingAndGlyphs" stroke="#262626" stroke-width="0.1">0 pt (n = 12)</text>
<text x="336.25" y="539.49" font-size="7.6" text-anchor="start" fill="#262626" textLength="38.75" lengthAdjust="spacingAndGlyphs" stroke="#262626" stroke-width="0.2"><tspan font-style="italic">P</tspan> = 3.1e-05</text>
<line x1="326.60" y1="593.40" x2="326.60" y2="686.00" stroke="#2e2e2e" stroke-width="1.45"/>
<line x1="325.90" y1="685.30" x2="472.70" y2="685.30" stroke="#2e2e2e" stroke-width="1.45"/>
<line x1="323.40" y1="685.30" x2="326.60" y2="685.30" stroke="#2e2e2e" stroke-width="1.0"/>
<text x="320.60" y="688.29" font-size="8.3" text-anchor="end" fill="#262626" stroke="#262626" stroke-width="0.1">0.0</text>
<line x1="323.40" y1="667.68" x2="326.60" y2="667.68" stroke="#2e2e2e" stroke-width="1.0"/>
<text x="320.60" y="670.67" font-size="8.3" text-anchor="end" fill="#262626" stroke="#262626" stroke-width="0.1">0.2</text>
<line x1="323.40" y1="650.06" x2="326.60" y2="650.06" stroke="#2e2e2e" stroke-width="1.0"/>
<text x="320.60" y="653.05" font-size="8.3" text-anchor="end" fill="#262626" stroke="#262626" stroke-width="0.1">0.4</text>
<line x1="323.40" y1="632.44" x2="326.60" y2="632.44" stroke="#2e2e2e" stroke-width="1.0"/>
<text x="320.60" y="635.43" font-size="8.3" text-anchor="end" fill="#262626" stroke="#262626" stroke-width="0.1">0.6</text>
<line x1="323.40" y1="614.82" x2="326.60" y2="614.82" stroke="#2e2e2e" stroke-width="1.0"/>
<text x="320.60" y="617.81" font-size="8.3" text-anchor="end" fill="#262626" stroke="#262626" stroke-width="0.1">0.8</text>
<line x1="323.40" y1="597.20" x2="326.60" y2="597.20" stroke="#2e2e2e" stroke-width="1.0"/>
<text x="320.60" y="600.19" font-size="8.3" text-anchor="end" fill="#262626" stroke="#262626" stroke-width="0.1">1.0</text>
<line x1="326.60" y1="685.30" x2="326.60" y2="688.50" stroke="#2e2e2e" stroke-width="1.0"/>
<text x="326.60" y="697.24" font-size="8.3" text-anchor="middle" fill="#262626" stroke="#262626" stroke-width="0.1">0</text>
<line x1="346.95" y1="685.30" x2="346.95" y2="688.50" stroke="#2e2e2e" stroke-width="1.0"/>
<text x="346.95" y="697.24" font-size="8.3" text-anchor="middle" fill="#262626" stroke="#262626" stroke-width="0.1">12</text>
<line x1="367.30" y1="685.30" x2="367.30" y2="688.50" stroke="#2e2e2e" stroke-width="1.0"/>
<text x="367.30" y="697.24" font-size="8.3" text-anchor="middle" fill="#262626" stroke="#262626" stroke-width="0.1">24</text>
<line x1="387.66" y1="685.30" x2="387.66" y2="688.50" stroke="#2e2e2e" stroke-width="1.0"/>
<text x="387.66" y="697.24" font-size="8.3" text-anchor="middle" fill="#262626" stroke="#262626" stroke-width="0.1">36</text>
<line x1="408.01" y1="685.30" x2="408.01" y2="688.50" stroke="#2e2e2e" stroke-width="1.0"/>
<text x="408.01" y="697.24" font-size="8.3" text-anchor="middle" fill="#262626" stroke="#262626" stroke-width="0.1">48</text>
<line x1="428.36" y1="685.30" x2="428.36" y2="688.50" stroke="#2e2e2e" stroke-width="1.0"/>
<text x="428.36" y="697.24" font-size="8.3" text-anchor="middle" fill="#262626" stroke="#262626" stroke-width="0.1">60</text>
<line x1="448.71" y1="685.30" x2="448.71" y2="688.50" stroke="#2e2e2e" stroke-width="1.0"/>
<text x="448.71" y="697.24" font-size="8.3" text-anchor="middle" fill="#262626" stroke="#262626" stroke-width="0.1">72</text>
<line x1="469.06" y1="685.30" x2="469.06" y2="688.50" stroke="#2e2e2e" stroke-width="1.0"/>
<text x="469.06" y="697.24" font-size="8.3" text-anchor="middle" fill="#262626" stroke="#262626" stroke-width="0.1">84</text>
<text x="399.60" y="589.37" font-size="10.2" text-anchor="middle" fill="#262626" textLength="53.25" lengthAdjust="spacingAndGlyphs" stroke="#262626" stroke-width="0.2">non-GC type</text>
<text x="399.40" y="711.06" font-size="9.9" text-anchor="middle" fill="#262626" textLength="91.25" lengthAdjust="spacingAndGlyphs" stroke="#262626" stroke-width="0.38">Time since diagnosis (months)</text>
<path d="M326.60,597.20 L376.29,597.20 L376.29,601.87 L385.79,601.87 L385.79,607.07 L472.12,607.07" fill="none" stroke="#561a6e" stroke-width="1.5" stroke-linejoin="miter"/>
<path d="M377.65,600.07 V603.67 M387.66,605.27 V608.87 M391.39,605.27 V608.87 M395.12,605.27 V608.87 M396.31,605.27 V608.87 M396.98,605.27 V608.87 M401.39,605.27 V608.87 M412.08,605.27 V608.87 M415.64,605.27 V608.87 M427.00,605.27 V608.87 M433.28,605.27 V608.87 M444.47,605.27 V608.87 M472.12,605.27 V608.87" stroke="#561a6e" stroke-width="1" fill="none"/>
<path d="M326.60,597.20 L327.96,597.20 L327.96,600.64 L335.76,600.64 L335.76,604.42 L342.03,604.42 L342.03,607.51 L346.27,607.51 L346.27,613.76 L347.63,613.76 L347.63,617.46 L402.58,617.46 L402.58,625.66 L438.20,625.66" fill="none" stroke="#33b24a" stroke-width="1.5" stroke-linejoin="miter"/>
<path d="M349.50,615.66 V619.26 M362.56,615.66 V619.26 M380.02,615.66 V619.26 M382.57,615.66 V619.26 M391.39,615.66 V619.26 M396.98,615.66 V619.26 M400.72,615.66 V619.26 M417.00,623.86 V627.46 M424.46,623.86 V627.46 M429.55,623.86 V627.46 M438.20,623.86 V627.46" stroke="#33b24a" stroke-width="1" fill="none"/>
<path d="M326.60,597.20 L327.45,597.20 L327.45,601.43 L332.54,601.43 L332.54,609.97 L333.89,609.97 L333.89,613.76 L339.49,613.76 L339.49,615.70 L340.68,615.70 L340.68,621.25 L342.54,621.25 L342.54,626.89 L343.22,626.89 L343.22,634.99 L362.05,634.99 L362.05,638.96 L400.72,638.96 L400.72,644.42 L428.87,644.42 L428.87,658.08 L444.47,658.08 L444.47,685.30 L444.47,685.30" fill="none" stroke="#0f4c8a" stroke-width="1.5" stroke-linejoin="miter"/>
<path d="M387.66,637.16 V640.76 M396.31,637.16 V640.76 M403.77,642.62 V646.22 M406.31,642.62 V646.22 M416.32,642.62 V646.22 M421.92,642.62 V646.22 M426.32,642.62 V646.22 M435.14,656.28 V659.88" stroke="#0f4c8a" stroke-width="1" fill="none"/>
<path d="M326.60,597.20 L326.94,597.20 L326.94,602.40 L330.67,602.40 L330.67,607.51 L332.03,607.51 L332.03,612.53 L338.30,612.53 L338.30,617.90 L342.54,617.90 L342.54,623.10 L350.68,623.10 L350.68,628.12 L351.36,628.12 L351.36,633.50 L360.69,633.50 L360.69,638.08 L362.05,638.08 L362.05,643.54 L365.10,643.54 L365.10,648.74 L367.64,648.74 L367.64,659.49 L467.03,659.49" fill="none" stroke="#c8102e" stroke-width="1.5" stroke-linejoin="miter"/>
<path d="M387.66,657.69 V661.29 M398.85,657.69 V661.29 M401.39,657.69 V661.29 M435.14,657.69 V661.29 M467.03,657.69 V661.29" stroke="#c8102e" stroke-width="1" fill="none"/>
<line x1="445.50" y1="627.00" x2="451.25" y2="627.00" stroke="#561a6e" stroke-width="1.9"/>
<text x="452.00" y="629.74" font-size="7.6" text-anchor="start" fill="#262626" textLength="41.75" lengthAdjust="spacingAndGlyphs" stroke="#262626" stroke-width="0.1">3 pt (n = 20)</text>
<line x1="445.50" y1="633.75" x2="451.25" y2="633.75" stroke="#33b24a" stroke-width="1.9"/>
<text x="452.00" y="636.49" font-size="7.6" text-anchor="start" fill="#262626" textLength="41.75" lengthAdjust="spacingAndGlyphs" stroke="#262626" stroke-width="0.1">2 pt (n = 26)</text>
<line x1="445.50" y1="640.75" x2="451.25" y2="640.75" stroke="#0f4c8a" stroke-width="1.9"/>
<text x="452.00" y="643.49" font-size="7.6" text-anchor="start" fill="#262626" textLength="41.75" lengthAdjust="spacingAndGlyphs" stroke="#262626" stroke-width="0.1">1 pt (n = 21)</text>
<line x1="445.50" y1="647.50" x2="451.25" y2="647.50" stroke="#c8102e" stroke-width="1.9"/>
<text x="452.00" y="650.24" font-size="7.6" text-anchor="start" fill="#262626" textLength="41.75" lengthAdjust="spacingAndGlyphs" stroke="#262626" stroke-width="0.1">0 pt (n = 17)</text>
<text x="331.25" y="677.74" font-size="7.6" text-anchor="start" fill="#262626" textLength="37.50" lengthAdjust="spacingAndGlyphs" stroke="#262626" stroke-width="0.2"><tspan font-style="italic">P</tspan> = .00036</text>
<rect x="0.5" y="0.5" width="519" height="719" fill="none" stroke="#120e0f" stroke-width="1.1"/>
</svg></body></html>
